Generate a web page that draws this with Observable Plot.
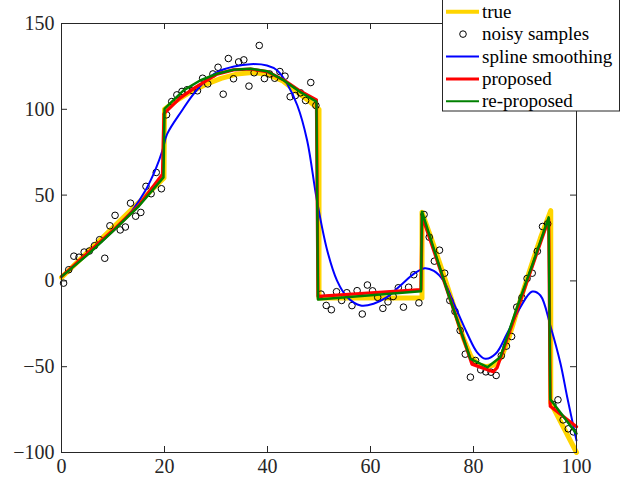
<!DOCTYPE html>
<html>
<head>
<meta charset="utf-8">
<script src="https://cdn.jsdelivr.net/npm/d3@7"></script>
<script src="https://cdn.jsdelivr.net/npm/@observablehq/plot@0.6"></script>
<style>
  html, body { margin: 0; padding: 0; background: #fff; }
  #wrap { position: relative; width: 634px; height: 490px; overflow: hidden; }
  #wrap svg, #wrap svg text { font-family: "Liberation Serif", "Times New Roman", serif !important; }
  #legend { position: absolute; left: 442px; top: -2px; }
</style>
</head>
<body>
<div id="wrap"></div>
<script>
// ---- data ----
const xTicks = [0, 20, 40, 60, 80, 100];
const yTicks = [-100, -50, 0, 50, 100, 150];

const sampleX = [0.4,1.4,2.4,3.4,4.4,5.4,6.4,7.4,8.4,9.4,10.4,11.4,12.4,13.4,14.4,15.4,16.4,17.4,18.4,19.4,
  20.4,21.4,22.4,23.4,24.4,25.4,26.4,27.4,28.4,29.4,30.4,31.4,32.4,33.4,34.4,35.4,36.4,37.4,38.4,39.4,
  40.4,41.4,42.4,43.4,44.4,45.4,46.4,47.4,48.4,49.4,50.4,51.4,52.4,53.4,54.4,55.4,56.4,57.4,58.4,59.4,
  60.4,61.4,62.4,63.4,64.4,65.4,66.4,67.4,68.4,69.4,70.4,71.4,72.4,73.4,74.4,75.4,76.4,77.4,78.4,79.4,
  80.4,81.4,82.4,83.4,84.4,85.4,86.4,87.4,88.4,89.4,90.4,91.4,92.4,93.4,94.4,95.4,96.4,97.4,98.4,99.4];
const sampleY = [-1.3,6.5,14.4,13.8,16.8,17.4,20.5,24.0,13.2,32.1,38.2,29.7,31.4,45.3,37.7,39.9,55.1,50.8,63.2,53.7,
  96.8,104.5,108.4,110.4,111.4,111,110.8,118.1,114.8,120.6,124.5,108.8,129.6,117.8,127.6,128.8,113.5,121.3,137.2,117.9,
  120.6,118.1,122,119.3,107.3,108,109.6,105.1,115.6,102.2,-7.7,-14.3,-16.8,-6.3,-11.4,-6.9,-14.4,-5.7,-19.3,-2.4,
  -5.8,-9.6,-16,-12.2,-9.1,-4,-15.3,-3.7,3.6,-12.8,38.7,25.5,11.5,17.9,4.5,-11.4,-17.8,-28.9,-42.7,-56.1,
  -46.4,-51.8,-53,-53.2,-55.1,-43.6,-38,-32.4,-15.3,-9.8,1.4,4.5,17.3,31.7,33.3,-72,-69.3,-81,-86.2,-88];

const trueX = [0,19.9,20,22,25,28,31,34,37,40,43,46,48,50,50,70,70,72,74,76,78,79.5,81,82.5,84,85.5,87,89,91,93,95,95,100];
const trueY = [2,60,100,104.5,110,114.5,118,120.5,121.5,120.5,116.5,109.5,105,100,-10,-10,40,23,5.5,-13,-33,-44,-49,-50,-49,-44,-32,-12,7,25,41,-71,-100];

const splineX = [0,5,10,13.7,16.3,18.3,19.6,20.5,23.4,25.4,27.6,30.2,33.5,36.7,39.9,41.9,43.8,45.8,47.7,49.6,51.6,53.5,55.5,58.1,60.6,63.2,65.8,68.4,70.5,72.3,74.2,76.2,78.8,80.7,82.3,84.3,86.5,89.1,91.4,93,95,96.9,98.2,100];
const splineY = [2.5,15.5,29,41,52.7,65.3,76,85.5,99.3,108,115.5,121.6,124.9,126.3,125.5,122.6,114.9,102.2,81.8,46.8,17.7,0.2,-9.5,-14.3,-13.3,-9.5,-2.7,4.1,7.4,5.8,0,-13.3,-30.8,-41.6,-45.4,-42.5,-30.8,-15.3,-6.2,-8.5,-27,-48.3,-67.8,-93];

const propX = [0,10,15,19.6,19.9,23,26,30.2,33.4,36.7,39.9,43.2,46.4,49.5,49.8,69.8,70,79.7,83.8,84.6,94.6,94.9,100];
const propY = [2.5,29.5,44,62.2,97.5,106.5,112.8,120.5,123,123.5,122,117,110.5,105.5,-9,-5,38,-48.5,-53,-50.5,36,-73,-85];

const reX = [0,5,10,15,19.8,20,23.7,26.9,30.2,33.4,36.7,39.9,43.2,46.4,49.5,49.8,69.8,70,75.3,79.4,82.7,85.2,88.5,91.5,94.6,94.9,100];
const reY = [2.5,15,29,43.5,60.3,100.3,111,116.8,120.7,123,123.6,122.2,116.8,110,104.5,-10.8,-6,40.3,-9.5,-45.4,-50.3,-44.5,-15,10,37,-69,-89];

const seriesNames = ["true", "noisy samples", "spline smoothing", "proposed", "re-proposed"];
const colors = {true: "#FFD500", spline: "#0000FF", prop: "#FF0000", re: "#008000", axis: "#262626"};

const pts = (xs, ys) => xs.map((x, i) => ({x, y: ys[i]}));

const W = 634, H = 490, mL = 61, mR = 58, mT = 23, mB = 38;
const innerW = W - mL - mR, innerH = H - mT - mB, tk = 6;
const serif = "Liberation Serif";

const chart = Plot.plot({
  width: W, height: H,
  marginLeft: mL, marginRight: mR, marginTop: mT, marginBottom: mB,
  style: {fontFamily: serif, fontSize: "20px", color: colors.axis, background: "#fff"},
  x: {domain: [0, 100]},
  y: {domain: [-100, 150]},
  marks: [
    Plot.line(pts(trueX, trueY), {x: "x", y: "y", stroke: colors.true, strokeWidth: 5, strokeLinejoin: "round"}),
    Plot.dot(pts(sampleX, sampleY), {x: "x", y: "y", r: 3.3, stroke: "#000", strokeWidth: 1, fill: "none"}),
    Plot.line(pts(splineX, splineY), {x: "x", y: "y", stroke: colors.spline, strokeWidth: 2, curve: "catmull-rom"}),
    Plot.line(pts(propX, propY), {x: "x", y: "y", stroke: colors.prop, strokeWidth: 3.2}),
    Plot.line(pts(reX, reY), {x: "x", y: "y", stroke: colors.re, strokeWidth: 2.5}),
    Plot.frame({stroke: colors.axis, strokeWidth: 1}),
    Plot.tickY(yTicks, {y: d => d, stroke: colors.axis, insetRight: innerW - tk}),
    Plot.tickY(yTicks, {y: d => d, stroke: colors.axis, insetLeft: innerW - tk}),
    Plot.tickX(xTicks, {x: d => d, stroke: colors.axis, insetTop: innerH - tk}),
    Plot.tickX(xTicks, {x: d => d, stroke: colors.axis, insetBottom: innerH - tk}),
    Plot.axisY(yTicks, {tickSize: 0, tickPadding: 7, label: null, fill: colors.axis, fontFamily: serif, fontSize: 20}),
    Plot.axisX(xTicks, {tickSize: 0, tickPadding: 6, label: null, fill: colors.axis, fontFamily: serif, fontSize: 20})
  ]
});

const wrap = document.getElementById("wrap");
wrap.appendChild(chart);

// ---- legend ----
const ns = "http://www.w3.org/2000/svg";
const lg = document.createElementNS(ns, "svg");
lg.setAttribute("id", "legend");
lg.setAttribute("width", 180);
lg.setAttribute("height", 115);
lg.style.fontSize = "19px";
const box = document.createElementNS(ns, "rect");
box.setAttribute("x", 0.5); box.setAttribute("y", 0.5);
box.setAttribute("width", 177); box.setAttribute("height", 112.5);
box.setAttribute("fill", "#fff"); box.setAttribute("stroke", colors.axis);
lg.appendChild(box);
const styles = [
  {type: "line", color: colors.true, w: 4},
  {type: "dot"},
  {type: "line", color: colors.spline, w: 2},
  {type: "line", color: colors.prop, w: 3},
  {type: "line", color: colors.re, w: 2}
];
seriesNames.forEach((name, i) => {
  const cy = 13.7 + i * 22.4;
  const s = styles[i];
  if (s.type === "line") {
    const l = document.createElementNS(ns, "line");
    l.setAttribute("x1", 4); l.setAttribute("x2", 37);
    l.setAttribute("y1", cy); l.setAttribute("y2", cy);
    l.setAttribute("stroke", s.color); l.setAttribute("stroke-width", s.w);
    lg.appendChild(l);
  } else {
    const c = document.createElementNS(ns, "circle");
    c.setAttribute("cx", 21); c.setAttribute("cy", cy); c.setAttribute("r", 3.3);
    c.setAttribute("fill", "none"); c.setAttribute("stroke", "#000");
    lg.appendChild(c);
  }
  const t = document.createElementNS(ns, "text");
  t.setAttribute("x", 40); t.setAttribute("y", cy + 6);
  t.setAttribute("fill", "#000");
  t.textContent = name;
  lg.appendChild(t);
});
wrap.appendChild(lg);
</script>
</body>
</html>
